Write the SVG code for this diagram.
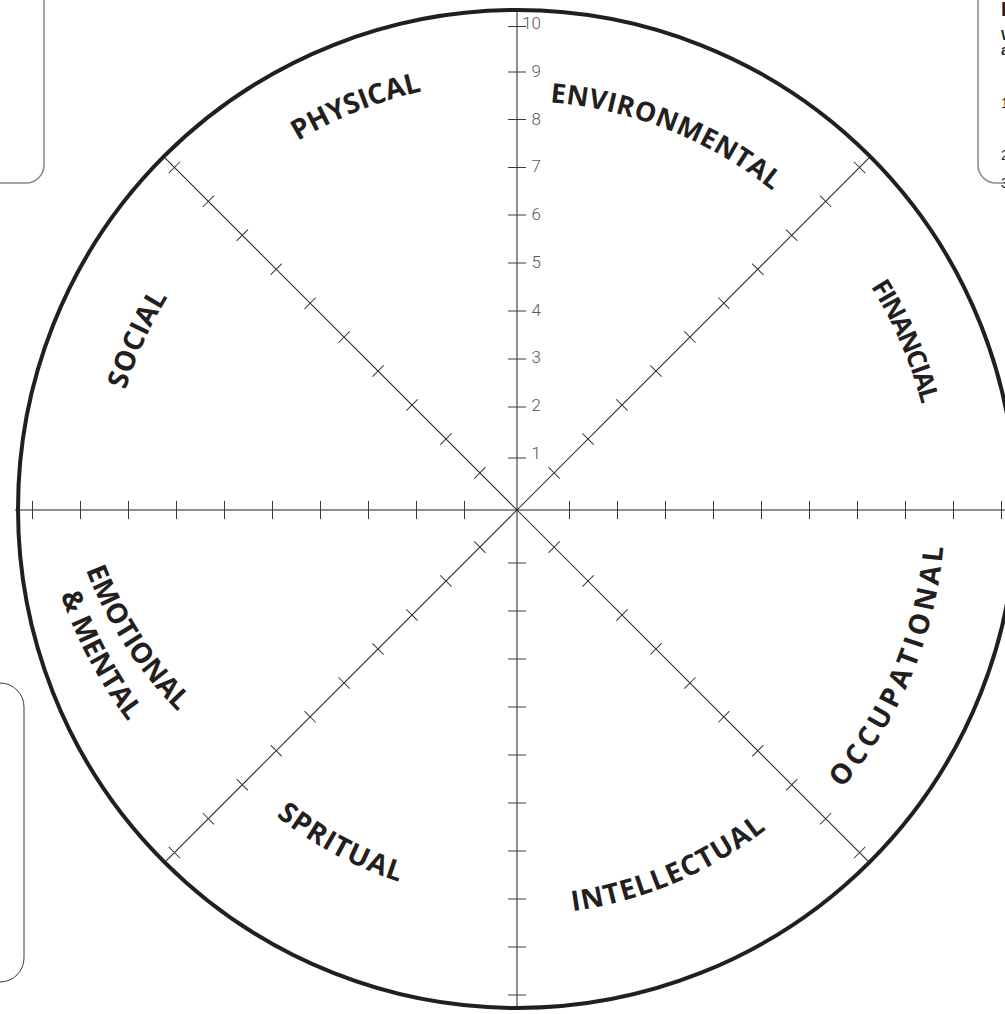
<svg xmlns="http://www.w3.org/2000/svg" xmlns:xlink="http://www.w3.org/1999/xlink" width="1005" height="1014" viewBox="0 0 1005 1014">
<style>
.ax{stroke:#231f20;stroke-width:1;fill:none}
.tk{stroke:#3a3a3c;stroke-width:1;fill:none}
.rim{stroke:#231f20;stroke-width:4;fill:none}
.box{stroke:#8a8a8a;stroke-width:1.6;fill:none}
.box2{stroke:#3a3a3a;stroke-width:1;fill:none}
.num{font-family:"Liberation Sans Narrow","Roboto",sans-serif;font-weight:300;font-size:17px;fill:#58595b;text-anchor:end}
.lab{font-family:"Open Sans","Noto Sans",sans-serif;font-weight:700;font-size:28px;fill:#231f20}
.side{font-family:"Liberation Sans",sans-serif;font-size:14px;fill:#231f20}
</style>
<defs>
<g id="spoke">
<line class="ax" x1="517" y1="510" x2="1016" y2="510"/>
<path class="tk" d="M569.5 502v16M617.5 502v16M665.5 502v16M713.5 502v16M761.5 502v16M809.5 502v16M857.5 502v16M905.5 502v16M953.5 502v16M1001.5 502v16"/>
</g>
<path id="pPhys" d="M121.7,343.0 A431,431 0 0 1 688.8,115.3"/>
<path id="pEnv" d="M355.2,134.4 A409,409 0 0 1 892.6,348.2"/>
<path id="pFin" d="M676.2,123.2 A418,418 0 0 1 903.7,668.9"/>
<path id="pSoc" d="M134.2,655.1 A409,409 0 0 1 372.5,127.4"/>
<path id="pOcc" d="M680.8,905.4 A428,428 0 0 0 912.4,346.2"/>
<path id="pInt" d="M365.3,885.5 A405,405 0 0 0 892.5,661.7"/>
<path id="pSpr" d="M145.1,623.9 A391,391 0 0 0 632.4,883.8"/>
<path id="pEmo" d="M67,334.6 A413,413 0 0 0 385.1,824.5"/>
<path id="pMen" d="M56.2,315.5 A453,453 0 0 0 356.9,881.2"/>
</defs>
<rect width="1005" height="1014" fill="#ffffff"/>

<g id="side-boxes">
<path class="box" d="M44 0V165A18 18 0 0 1 26 183H0"/>
<path class="box" d="M978 0V165A18 18 0 0 0 996 183H1005"/>
<path class="box2" d="M0 683A24 24 0 0 1 24 707V958A24 24 0 0 1 0 982"/>
<text class="side" x="1001" y="16" style="font-weight:700;font-size:20px">I</text>
<text class="side" x="1001" y="40" style="font-weight:700">W</text>
<text class="side" x="1001" y="55" style="font-weight:700">a</text>
<text class="side" x="1001" y="108">1</text>
<text class="side" x="1001" y="160">2</text>
<text class="side" x="1001" y="188">3</text>
</g>

<g id="connectors">
<use xlink:href="#spoke" href="#spoke" transform="rotate(-45 517 510)"/>
<use xlink:href="#spoke" href="#spoke" transform="rotate(-135 517 510)"/>
<use xlink:href="#spoke" href="#spoke" transform="rotate(45 517 510)"/>
<use xlink:href="#spoke" href="#spoke" transform="rotate(135 517 510)"/>
<line class="ax" x1="15" y1="510" x2="1005" y2="510"/>
<path class="tk" d="M569.5 501v18M617.5 501v18M665.5 501v18M713.5 501v18M761.5 501v18M809.5 501v18M857.5 501v18M905.5 501v18M953.5 501v18M1001.5 501v18M464.5 501v18M416.5 501v18M368.5 501v18M320.5 501v18M272.5 501v18M224.5 501v18M176.5 501v18M128.5 501v18M80.5 501v18M32.5 501v18"/>
<line class="ax" x1="517" y1="10" x2="517" y2="1008"/>
<path class="tk" d="M508 458h18M508 407h18M508 359h18M508 311h18M508 263h18M508 215h18M508 167.5h18M508 119.5h18M508 72h18M508 26.5h18M508 563h18M508 611h18M508 659h18M508 707h18M508 755h18M508 803h18M508 851h18M508 899h18M508 947h18M508 995h18"/>
</g>

<g id="scale">
<text class="num" x="541" y="459">1</text>
<text class="num" x="541" y="411">2</text>
<text class="num" x="541" y="363">3</text>
<text class="num" x="541" y="316">4</text>
<text class="num" x="541" y="268">5</text>
<text class="num" x="541" y="220">6</text>
<text class="num" x="541" y="172">7</text>
<text class="num" x="541" y="124.5">8</text>
<text class="num" x="541" y="76.5">9</text>
<text class="num" x="541" y="28.5">10</text>
</g>

<g id="wheel">
<circle class="rim" cx="517" cy="509" r="499"/>
</g>

<g id="physical"><text class="lab"><textPath href="#pPhys" xlink:href="#pPhys" startOffset="50%" text-anchor="middle">PHYSICAL</textPath></text></g>
<g id="environmental"><text class="lab" style="font-size:27px;letter-spacing:0.5px"><textPath href="#pEnv" xlink:href="#pEnv" startOffset="50%" text-anchor="middle">ENVIRONMENTAL</textPath></text></g>
<g id="financial"><text class="lab" style="font-size:26px;letter-spacing:-1.5px"><textPath href="#pFin" xlink:href="#pFin" startOffset="49%" text-anchor="middle">FINANCIAL</textPath></text></g>
<g id="social"><text class="lab" style="letter-spacing:0.5px"><textPath href="#pSoc" xlink:href="#pSoc" startOffset="50%" text-anchor="middle">SOCIAL</textPath></text></g>
<g id="occupational"><text class="lab" style="letter-spacing:4px"><textPath href="#pOcc" xlink:href="#pOcc" startOffset="50%" text-anchor="middle">OCCUPATIONAL</textPath></text></g>
<g id="intellectual"><text class="lab" style="letter-spacing:1px"><textPath href="#pInt" xlink:href="#pInt" startOffset="50%" text-anchor="middle">INTELLECTUAL</textPath></text></g>
<g id="spritual"><text class="lab" style="letter-spacing:1px"><textPath href="#pSpr" xlink:href="#pSpr" startOffset="50%" text-anchor="middle">SPRITUAL</textPath></text></g>
<g id="emotional-mental">
<text class="lab"><textPath href="#pEmo" xlink:href="#pEmo" startOffset="50%" text-anchor="middle">EMOTIONAL</textPath></text>
<text class="lab"><textPath href="#pMen" xlink:href="#pMen" startOffset="50%" text-anchor="middle">&amp; MENTAL</textPath></text>
</g>
</svg>
